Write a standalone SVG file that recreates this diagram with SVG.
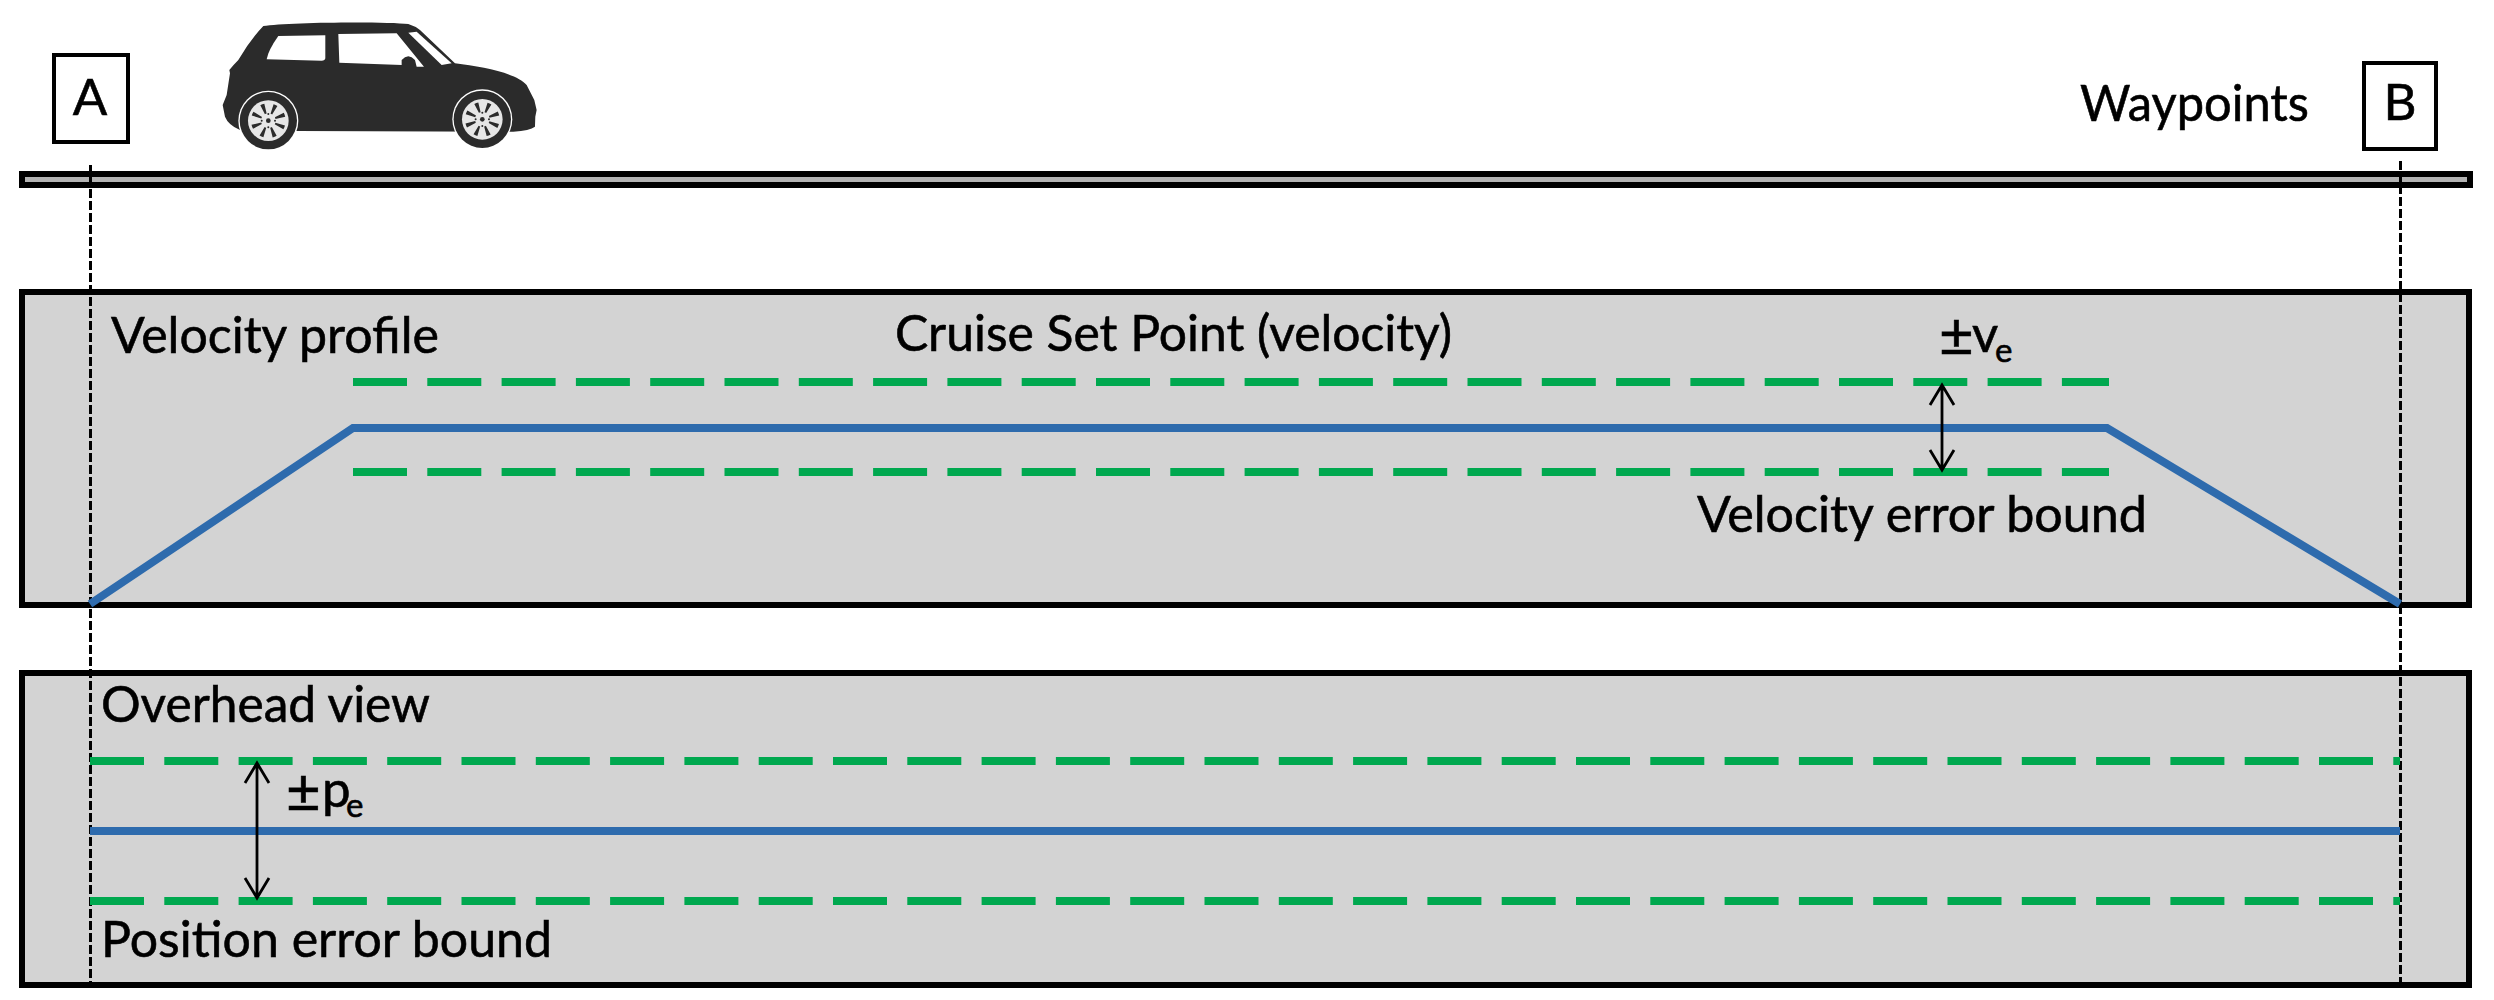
<svg xmlns="http://www.w3.org/2000/svg" width="2494" height="1000" viewBox="0 0 2494 1000">
<style>
text{font-family:"Lato","Carlito","Liberation Sans",sans-serif;font-size:51px;fill:#000;stroke:#000;stroke-width:.6}
.sub{font-size:33px}
.pm{font-size:60px}
.panel{fill:#d3d3d3;stroke:#000;stroke-width:6}
.box{fill:#fff;stroke:#000;stroke-width:4}
.blue{fill:none;stroke:#2e6bad;stroke-width:8}
.green{fill:none;stroke:#00a84f;stroke-width:8;stroke-dasharray:54 20.3}
.guide{fill:none;stroke:#000;stroke-width:3;stroke-dasharray:9 3}
.arrow{fill:none;stroke:#000;stroke-width:2.8}
</style>
<defs>
<g id="wheel">
<circle r="90" fill="#fff"/>
<circle r="86" fill="#2b2b2b"/>
<circle r="61" fill="#e6e6e6"/>
<circle r="37" fill="none" stroke="#2b2b2b" stroke-width="30" stroke-dasharray="9 20.06" transform="rotate(16)"/>
<circle r="7" fill="#2b2b2b"/>
<circle cx="-20" r="3" fill="#2b2b2b"/><circle cx="20" r="3" fill="#2b2b2b"/><circle cy="-20" r="3" fill="#2b2b2b"/><circle cy="20" r="3" fill="#2b2b2b"/>
</g>
</defs>
<rect width="2494" height="1000" fill="#fff"/>
<g id="road"><rect x="22" y="174" width="2448" height="11" fill="#b3b3b3" stroke="#000" stroke-width="6"/></g>
<g id="panel-velocity"><rect class="panel" x="22" y="292" width="2447" height="313"/></g>
<g id="panel-overhead"><rect class="panel" x="22" y="673" width="2447" height="312"/></g>
<g id="car" transform="translate(200 10) scale(.3333)">
<path fill="#2b2b2b" d="M190,48C260,36 560,34 625,42Q645,48 660,60L765,160C850,170 950,190 980,225L1003,270L1010,300L1006,320L1005,350Q990,362 940,365L295,363L120,360Q85,345 75,320L68,285L80,255L90,190L88,180Q100,165 115,150Q150,90 190,48Z"/>
<path fill="#fff" d="M235,78L376,76L376,145Q375,152 365,152L200,148Q205,120 235,78Z"/>
<path fill="#fff" d="M415,72L590,70L672,170L650,170L645,150Q625,128 605,150L605,165L418,158Z"/>
<path fill="#fff" d="M625,68L650,65L755,160L725,165Z"/>
<use href="#wheel" x="205" y="332"/>
<use href="#wheel" x="847" y="328"/>
</g>
<g id="waypoint-a"><rect class="box" x="54" y="55" width="74" height="87"/><text x="90" y="115" text-anchor="middle">A</text></g>
<g id="waypoint-b"><rect class="box" x="2364" y="63" width="72" height="86"/><text x="2400" y="120" text-anchor="middle">B</text></g>
<g id="connectors">
<path class="guide" d="M90.5 165V988"/>
<path class="guide" d="M2400.5 161V988"/>
<path class="blue" d="M90 604L353 428H2107L2400 604"/>
<path class="green" d="M353 382H2109"/>
<path class="green" d="M353 472H2109"/>
<path class="blue" d="M90 831H2400"/>
<path class="green" d="M90 761H2400"/>
<path class="green" d="M90 901H2400"/>
<path class="arrow" d="M1942 385V470M1930 405L1942 385L1954 405M1930 450L1942 470L1954 450"/>
<path class="arrow" d="M257 763V898M245 783L257 763L269 783M245 878L257 898L269 878"/>
</g>
<g id="labels">
<text x="2080" y="121" textLength="229" lengthAdjust="spacingAndGlyphs">Waypoints</text>
<text x="111" y="353" textLength="328" lengthAdjust="spacingAndGlyphs">Velocity profile</text>
<text x="895" y="351" textLength="557" lengthAdjust="spacingAndGlyphs">Cruise Set Point (velocity)</text>
<text x="1697" y="532" textLength="450" lengthAdjust="spacingAndGlyphs">Velocity error bound</text>
<text x="101" y="722" textLength="329" lengthAdjust="spacingAndGlyphs">Overhead view</text>
<text x="101" y="957" textLength="451" lengthAdjust="spacingAndGlyphs">Position error bound</text>
<text class="pm" x="1939" y="356">±</text><text x="1972" y="352">v</text><text class="sub" x="1995" y="362">e</text>
<text class="pm" x="286" y="812">±</text><text x="322" y="807">p</text><text class="sub" x="346" y="817">e</text>
</g>
</svg>
